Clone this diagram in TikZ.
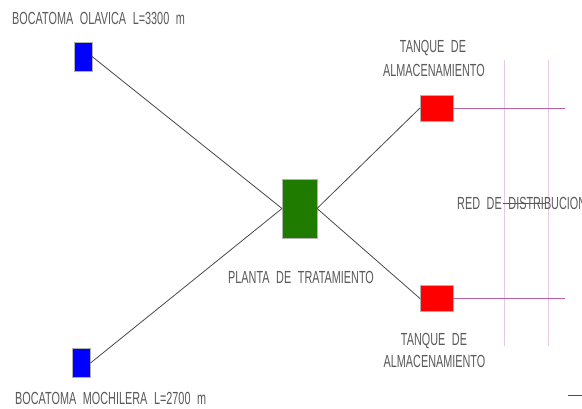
\documentclass[tikz,border=0pt]{standalone}
\usepackage{fontspec}
\newfontfamily\cadfont{Liberation Sans}[FakeStretch=0.62, WordSpace=2.2]
\definecolor{txtgray}{HTML}{5A5A5A}
\definecolor{pipegray}{HTML}{4A4A4A}
\definecolor{plantgreen}{HTML}{1F7A00}
\definecolor{netline}{HTML}{B862AC}
\definecolor{netgrid}{HTML}{E6C9E3}
\definecolor{strike}{HTML}{8A3A7E}
\tikzset{
  unit/.style={draw=gray!60, line width=0.6pt, inner sep=0pt, outer sep=0pt},
  intake/.style={unit, fill=blue, minimum width=18pt, minimum height=29pt},
  plant/.style={unit, fill=plantgreen, minimum width=35pt, minimum height=59pt},
  tank/.style={unit, fill=red, minimum width=33pt, minimum height=26pt},
  lbl/.style={font=\cadfont\fontsize{17.5}{20}\selectfont, text=txtgray, inner sep=0pt},
  pipe/.style={draw=pipegray, line width=0.8pt},
  net/.style={draw=netline, line width=0.9pt},
  grid/.style={draw=netgrid, line width=1pt}
}
\begin{document}
\begin{tikzpicture}[x=1pt, y=-1pt]
\clip (0,0) rectangle (582,409);
\fill[white] (0,0) rectangle (582,409);

% distribution network
\coordinate (g1t) at (504,60);
\coordinate (g1b) at (504,346);
\coordinate (g2t) at (548,60);
\coordinate (g2b) at (548,346);
\draw[grid] (g1t) -- (g1b);
\draw[grid] (g2t) -- (g2b);

% units
\node[intake] (ola) at (83,56.5) {};
\node[intake] (moc) at (81.5,363) {};
\node[plant] (pt) at (299.5,208.5) {};
\node[tank] (tk1) at (436.5,108) {};
\node[tank] (tk2) at (436.5,298.5) {};

% pipes
\draw[pipe] (ola.east) -- (pt.west);
\draw[pipe] (moc.east) -- (pt.west);
\draw[pipe] (pt.east) -- (tk1.west);
\draw[pipe] (pt.east) -- (tk2.west);

\coordinate (n1) at (565,108);
\coordinate (n2) at (565,298.5);
\draw[net] (tk1.east) -- (n1);
\draw[net] (tk2.east) -- (n2);

% labels
\node[lbl, anchor=west] (lola) at (12,18) {BOCATOMA OLAVICA L=3300 m};
\node[lbl, anchor=west] (lmoc) at (15,398) {BOCATOMA MOCHILERA L=2700 m};
\node[lbl] (lt1a) at (433,48) {TANQUE DE};
\node[lbl] (lt1b) at (434,70) {ALMACENAMIENTO};
\node[lbl] (lt2a) at (434,341) {TANQUE DE};
\node[lbl] (lt2b) at (434.5,361) {ALMACENAMIENTO};
\node[lbl, anchor=west] (lpt) at (228,277) {PLANTA DE TRATAMIENTO};
\node[lbl, anchor=west] (lred) at (457,203) {RED DE DISTRIBUCION};

\coordinate (s1) at (503,203);
\coordinate (s2) at (545,203);
\draw[draw=strike, line width=0.8pt] (s1) -- (s2);

\coordinate (d1) at (568,395);
\coordinate (d2) at (582,395);
\draw[draw=pipegray, line width=0.8pt] (d1) -- (d2);
\end{tikzpicture}
\end{document}
